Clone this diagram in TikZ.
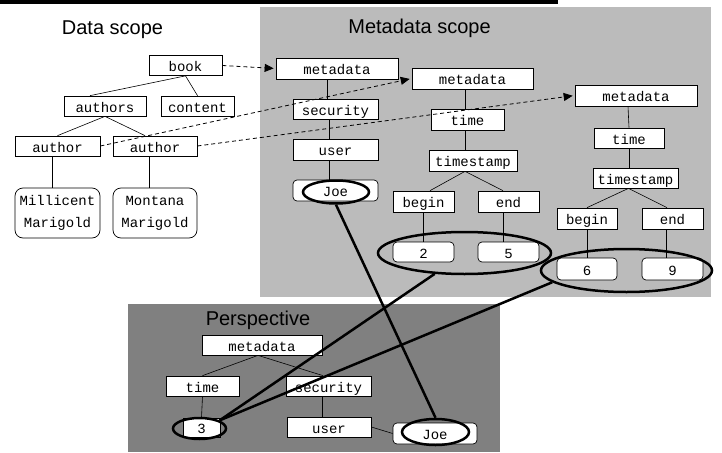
\documentclass[tikz,border=0pt]{standalone}
\usepackage{fontspec}
\setmainfont{Liberation Sans}
\setmonofont{Liberation Mono}
\usetikzlibrary{shapes.geometric,arrows.meta}
\definecolor{scopegray}{RGB}{187,187,187}
\definecolor{perspgray}{RGB}{128,128,128}
\tikzset{
  cell/.style={draw,fill=white,line width=0.7pt,inner sep=0pt,
    font=\ttfamily\fontsize{14}{22}\selectfont},
  box/.style={cell,minimum height=20pt,text height=14pt,text depth=2pt},
  leaf/.style={box,rounded corners=4pt},
  person/.style={cell,rounded corners=8pt,align=center,minimum height=50pt},
  ring/.style={ellipse,draw,line width=2.5pt,inner sep=0pt},
  title/.style={anchor=base,font=\fontsize{20}{24}\selectfont},
  link/.style={line width=0.6pt},
  ref/.style={dash pattern=on 4pt off 3pt,line width=0.8pt,
    -{Triangle[length=9pt,width=8pt]},shorten >=2pt},
  hit/.style={line width=2.5pt}
}
\begin{document}
\begin{tikzpicture}[x=1pt,y=-1pt]
  \useasboundingbox (0,0) rectangle (722,452);
  \fill (0,0) rectangle (558,4);
  \fill[scopegray] (260,7) rectangle (711,297);
  \fill[perspgray] (128,304) rectangle (500,452);

  % data scope
  \node[title] (tdata) at (112.5,35) {Data scope};
  \node[box,minimum width=73pt] (book) at (185.5,65.5) {book};
  \node[box,minimum width=82pt] (authors) at (105,106) {authors};
  \node[box,minimum width=73pt] (content) at (197.5,106) {content};
  \node[box,minimum width=85pt] (authA) at (57.5,146) {author};
  \node[box,minimum width=84pt] (authB) at (155,146) {author};
  \node[person,minimum width=85pt] (mill) at (57.5,213) {Millicent\\Marigold};
  \node[person,minimum width=84pt] (mont) at (155,213) {Montana\\Marigold};
  \draw[link] (book.south) -- ([xshift=-15pt]authors.north);
  \draw[link] (book.south) -- (content.north);
  \draw[link] (authors.south) -- (authA.north);
  \draw[link] (authors.south) -- ([xshift=-10pt]authB.north);
  \draw[link] ([xshift=-5pt]authA.south) -- ([xshift=-5pt]mill.north);
  \draw[link] ([xshift=-6pt]authB.south) -- ([xshift=-6pt]mont.north);

  % metadata scope
  \node[title] (tmeta) at (419.5,34) {Metadata scope};
  \node[box,minimum width=122pt,minimum height=21pt] (metaA) at (337,68.5) {metadata};
  \node[box,minimum width=85pt] (secA) at (335.5,109) {security};
  \node[box,minimum width=85pt,minimum height=21pt] (userA) at (335.5,149.5) {user};
  \node[leaf,minimum width=85pt,minimum height=21pt] (joeA) at (335.5,190.5) {Joe};
  \draw[link] ([xshift=-10pt]metaA.south) -- ([xshift=-8.5pt]secA.north);
  \draw[link] ([xshift=-6pt]secA.south) -- ([xshift=-6pt]userA.north);
  \draw[link] ([xshift=-6pt]userA.south) -- ([xshift=-6pt]joeA.north);

  \node[box,minimum width=121pt,minimum height=21pt] (metaB) at (472.5,78.5) {metadata};
  \node[box,minimum width=73pt,minimum height=21pt] (timeB) at (467.5,119.5) {time};
  \node[box,minimum width=88pt,minimum height=21pt] (stampB) at (473,160.5) {timestamp};
  \node[box,minimum width=61pt,minimum height=21pt] (beginB) at (423.5,201.5) {begin};
  \node[box,minimum width=61pt,minimum height=21pt] (endB) at (508.5,201.5) {end};
  \node[leaf,minimum width=61pt] (twoB) at (423.5,252) {2};
  \node[leaf,minimum width=61pt] (fiveB) at (508.5,252) {5};
  \draw[link] ([xshift=-7.5pt]metaB.south) -- ([xshift=-2.5pt]timeB.north);
  \draw[link] ([xshift=-2.5pt]timeB.south) -- ([xshift=-8pt]stampB.north);
  \draw[link] ([xshift=-8pt]stampB.south) -- ([xshift=6.5pt]beginB.north);
  \draw[link] ([xshift=-8pt]stampB.south) -- ([xshift=-5.5pt]endB.north);
  \draw[link] (beginB.south) -- (twoB.north);
  \draw[link] ([xshift=-5.5pt]endB.south) -- ([xshift=-5.5pt]fiveB.north);

  \node[box,minimum width=122pt,minimum height=21pt] (metaC) at (636,95.5) {metadata};
  \node[box,minimum width=70pt] (timeC) at (629,138) {time};
  \node[box,minimum width=85pt] (stampC) at (635.5,178) {timestamp};
  \node[box,minimum width=60pt,minimum height=21pt] (beginC) at (587,218.5) {begin};
  \node[box,minimum width=61pt,minimum height=21pt] (endC) at (672.5,218.5) {end};
  \node[leaf,minimum width=60pt,minimum height=22pt] (sixC) at (587,269) {6};
  \node[leaf,minimum width=61pt,minimum height=22pt] (nineC) at (672.5,269) {9};
  \draw[link] ([xshift=-8pt]metaC.south) -- (timeC.north);
  \draw[link] (timeC.south) -- ([xshift=-6.5pt]stampC.north);
  \draw[link] ([xshift=-7pt]stampC.south) -- (beginC.north);
  \draw[link] ([xshift=-7pt]stampC.south) -- ([xshift=-5.5pt]endC.north);
  \draw[link] (beginC.south) -- (sixC.north);
  \draw[link] ([xshift=-6.5pt]endC.south) -- ([xshift=-6.5pt]nineC.north);

  % perspective
  \node[title] (tpersp) at (258,325) {Perspective};
  \node[box,minimum width=120pt] (metaP) at (262,345) {metadata};
  \node[box,minimum width=73pt] (timeP) at (202.5,386) {time};
  \node[box,minimum width=85pt] (secP) at (328.5,386) {security};
  \node[box,minimum width=37pt,minimum height=19pt] (threeP) at (201.5,427.5) {3};
  \node[box,minimum width=84pt] (userP) at (329,427) {user};
  \node[leaf,minimum width=84pt,minimum height=21pt] (joeP) at (435,433.5) {Joe};
  \draw[link] ([xshift=-4pt]metaP.south) -- (timeP.north);
  \draw[link] ([xshift=-4pt]metaP.south) -- ([xshift=-5.5pt]secP.north);
  \draw[link] (timeP.south) -- (threeP.north);
  \draw[link] ([xshift=-6.5pt]secP.south) -- ([xshift=-7pt]userP.north);
  \draw[link] (userP.east) -- (joeP.west);

  % references from data to metadata
  \draw[ref] (book.east) -- (metaA.west);
  \draw[ref] (authA.east) -- (metaB.west);
  \draw[ref] (authB.east) -- (metaC.west);

  % matches
  \node[ring,minimum width=66pt,minimum height=23pt] (eJoeA) at (336,192) {};
  \node[ring,minimum width=173pt,minimum height=42pt] (e25) at (464.5,253) {};
  \node[ring,minimum width=171pt,minimum height=43pt] (e69) at (626.5,270.5) {};
  \node[ring,minimum width=53pt,minimum height=21pt] (e3) at (199.5,428.5) {};
  \node[ring,minimum width=67pt,minimum height=26pt] (eJoeP) at (435.5,432) {};
  \draw[hit] (eJoeA.south) -- (eJoeP.north);
  \draw[hit] (e25.215) -- (e3.22);
  \draw[hit] (e69.189) -- (e3.22);
\end{tikzpicture}
\end{document}
